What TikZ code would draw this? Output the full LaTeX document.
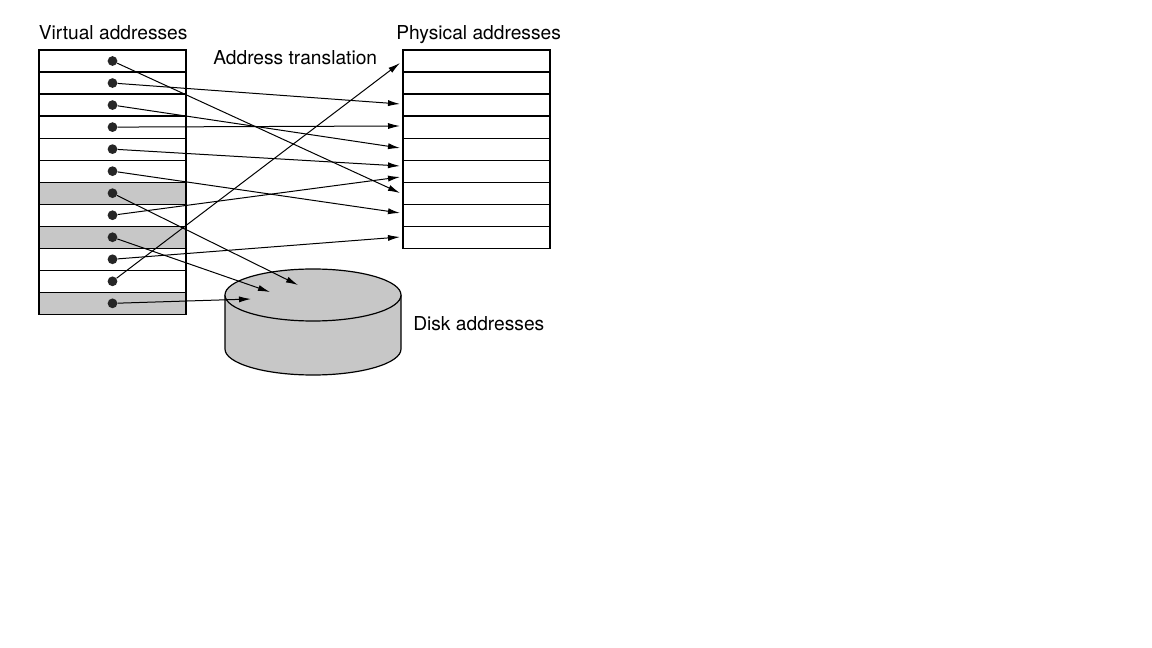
\documentclass[tikz,border=0pt]{standalone}
\usepackage{fontspec}
\setmainfont{TeX Gyre Heros}
\usetikzlibrary{arrows.meta}
\begin{document}
\begin{tikzpicture}[x=0.75pt,y=-0.75pt,
  dot/.style={circle,fill=black!85,inner sep=0pt,minimum size=7.3pt},
  arr/.style={-{Latex[length=9pt,width=4.6pt]},line width=0.75pt},
  tbl/.style={line width=0.9pt},
  shade/.style={fill=black!22},
  lbl/.style={font=\fontsize{14.4}{17}\selectfont,inner sep=0pt,anchor=base west}]
\useasboundingbox (0,0) rectangle (1152,648);
% labels
\node[lbl] (vl) at (38.5,40) {Virtual addresses};
\node[lbl] (pl) at (396,40) {Physical addresses};
\node[lbl] (al) at (213,65) {Address translation};
\node[lbl] (dl) at (413,330) {Disk addresses};
% virtual table
\foreach \i in {6,8,11} \fill[shade] (39,{50+22.03*\i}) rectangle (186,{50+22.03*(\i+1)});
\foreach \i in {0,...,11} \draw[tbl] (39,{50+22.03*\i}) rectangle (186,{50+22.03*(\i+1)});
% physical table
\foreach \i in {0,...,8} \draw[tbl] (403,{50+22.03*\i}) rectangle (550,{50+22.03*(\i+1)});
% disk
\fill[shade] (225,295) -- (225,349) arc[start angle=180,end angle=0,x radius=88,y radius=26] -- (401,295) -- cycle;
\draw[tbl] (225,295) -- (225,349) arc[start angle=180,end angle=0,x radius=88,y radius=26] -- (401,295);
\draw[tbl,shade] (313,295) ellipse[x radius=88,y radius=26];
% dots
\foreach \i in {1,...,12} \node[dot] (v\i) at (112.5,{50+22.03*(\i-0.5)}) {};
% targets
\coordinate (t1) at (400,193);
\coordinate (t2) at (400,104);
\coordinate (t3) at (400,148);
\coordinate (t4) at (400,126);
\coordinate (t5) at (400,166);
\coordinate (t6) at (400,213);
\coordinate (t8) at (400,177);
\coordinate (t10) at (400,237);
\coordinate (t11) at (400,63);
\coordinate (d7) at (298,285);
\coordinate (d9) at (270,292);
\coordinate (d12) at (251,299);
\foreach \s/\t in {v1/t1,v2/t2,v3/t3,v4/t4,v5/t5,v6/t6,v8/t8,v10/t10,v11/t11,v7/d7,v9/d9,v12/d12}
  \draw[arr] (\s) -- (\t);
\end{tikzpicture}
\end{document}
